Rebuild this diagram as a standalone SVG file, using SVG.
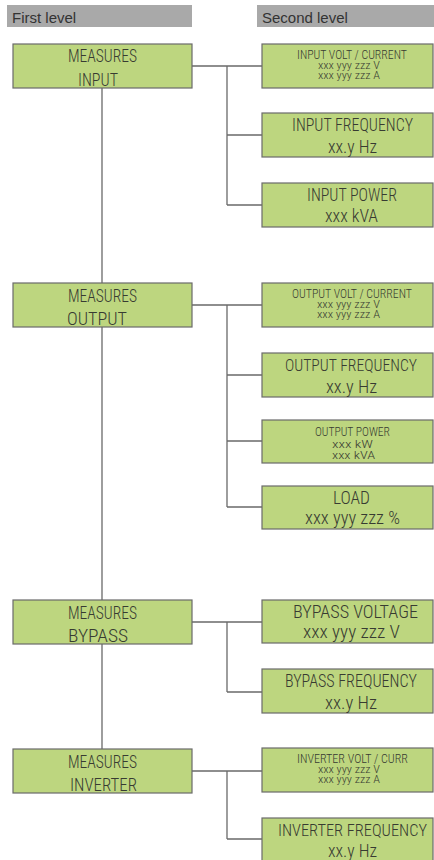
<svg xmlns="http://www.w3.org/2000/svg" width="434" height="860" viewBox="0 0 434 860">
<style>
.bg{fill:#ffffff}
.hdr{fill:#a9a9a9}
.htxt{font-family:"Liberation Sans",Arial,sans-serif;font-size:15px;fill:#333333}
.box{fill:#bdd67f;stroke:#6a6a6a;stroke-width:1.2}
.t{font-family:"Roboto Condensed","DejaVu Sans Condensed","Liberation Sans Narrow","Liberation Sans",sans-serif;font-stretch:condensed;font-weight:300;fill:#383b32;text-anchor:middle}
.big{font-size:18px}
.fit{font-size:17px}
.mid{font-size:13px}
.sm{font-size:10px}
.ln{fill:none;stroke:#6a6a6a;stroke-width:1.3}
</style>
<rect class="bg" x="0" y="0" width="434" height="860"/>
<g id="headers">
<rect class="hdr" x="7" y="5" width="185" height="22"/>
<text class="htxt" x="12" y="23">First level</text>
<rect class="hdr" x="257" y="5" width="177" height="22"/>
<text class="htxt" x="262" y="23">Second level</text>
</g>
<g id="connectors">
<path class="ln" d="M102 88V283M102 327V600M102 644V749"/>
<path class="ln" d="M192 66H262M227 66V205M227 135H262M227 205H262"/>
<path class="ln" d="M192 305H262M227 305V507M227 375H262M227 441H262M227 507H262"/>
<path class="ln" d="M192 622H262M227 622V692M227 692H262"/>
<path class="ln" d="M192 771H262M227 771V839M227 839H262"/>
</g>
<g id="measures-input">
<rect class="box" x="13" y="44" width="179" height="44"/>
<text class="t big" x="102.5" y="62" textLength="69" lengthAdjust="spacingAndGlyphs">MEASURES</text>
<text class="t big" x="98" y="86" textLength="40" lengthAdjust="spacingAndGlyphs">INPUT</text>
</g>
<g id="measures-output">
<rect class="box" x="13" y="283" width="179" height="44"/>
<text class="t big" x="102.5" y="302" textLength="69" lengthAdjust="spacingAndGlyphs">MEASURES</text>
<text class="t big" x="97" y="325" textLength="60" lengthAdjust="spacingAndGlyphs">OUTPUT</text>
</g>
<g id="measures-bypass">
<rect class="box" x="13" y="600" width="179" height="44"/>
<text class="t big" x="102.5" y="619" textLength="69" lengthAdjust="spacingAndGlyphs">MEASURES</text>
<text class="t big" x="98" y="642" textLength="60" lengthAdjust="spacingAndGlyphs">BYPASS</text>
</g>
<g id="measures-inverter">
<rect class="box" x="13" y="749" width="179" height="44"/>
<text class="t big" x="102.5" y="768" textLength="69" lengthAdjust="spacingAndGlyphs">MEASURES</text>
<text class="t big" x="103.5" y="791" textLength="67" lengthAdjust="spacingAndGlyphs">INVERTER</text>
</g>
<g id="input-volt-current">
<rect class="box" x="262" y="44" width="171" height="44"/>
<text class="t mid" x="352" y="58.5" textLength="110" lengthAdjust="spacingAndGlyphs">INPUT VOLT / CURRENT</text>
<text class="t sm" x="349" y="69" textLength="62" lengthAdjust="spacingAndGlyphs">xxx yyy zzz V</text>
<text class="t sm" x="349" y="79" textLength="62" lengthAdjust="spacingAndGlyphs">xxx yyy zzz A</text>
</g>
<g id="input-frequency">
<rect class="box" x="262" y="113" width="171" height="44"/>
<text class="t big" x="352.5" y="131" textLength="121" lengthAdjust="spacingAndGlyphs">INPUT FREQUENCY</text>
<text class="t big" x="352.5" y="153" textLength="49" lengthAdjust="spacingAndGlyphs">xx.y Hz</text>
</g>
<g id="input-power">
<rect class="box" x="262" y="183" width="171" height="44"/>
<text class="t big" x="352" y="201" textLength="90" lengthAdjust="spacingAndGlyphs">INPUT POWER</text>
<text class="t big" x="351.5" y="222" textLength="53" lengthAdjust="spacingAndGlyphs">xxx kVA</text>
</g>
<g id="output-volt-current">
<rect class="box" x="262" y="283" width="171" height="44"/>
<text class="t mid" x="352" y="297.5" textLength="120" lengthAdjust="spacingAndGlyphs">OUTPUT VOLT / CURRENT</text>
<text class="t sm" x="348.5" y="308" textLength="63" lengthAdjust="spacingAndGlyphs">xxx yyy zzz V</text>
<text class="t sm" x="348.5" y="318" textLength="63" lengthAdjust="spacingAndGlyphs">xxx yyy zzz A</text>
</g>
<g id="output-frequency">
<rect class="box" x="262" y="353" width="171" height="44"/>
<text class="t fit" x="351" y="371" textLength="132" lengthAdjust="spacingAndGlyphs">OUTPUT FREQUENCY</text>
<text class="t big" x="351.5" y="393" textLength="51" lengthAdjust="spacingAndGlyphs">xx.y Hz</text>
</g>
<g id="output-power">
<rect class="box" x="262" y="420" width="171" height="43"/>
<text class="t mid" x="352.5" y="436" textLength="75" lengthAdjust="spacingAndGlyphs">OUTPUT POWER</text>
<text class="t sm" x="352.5" y="448" textLength="41" lengthAdjust="spacingAndGlyphs">xxx kW</text>
<text class="t sm" x="353.5" y="459" textLength="43" lengthAdjust="spacingAndGlyphs">xxx kVA</text>
</g>
<g id="load">
<rect class="box" x="262" y="486" width="171" height="43"/>
<text class="t big" x="351.5" y="504" textLength="37" lengthAdjust="spacingAndGlyphs">LOAD</text>
<text class="t big" x="352.5" y="524" textLength="95" lengthAdjust="spacingAndGlyphs">xxx yyy zzz %</text>
</g>
<g id="bypass-voltage">
<rect class="box" x="262" y="600" width="171" height="43"/>
<text class="t big" x="355.5" y="618" textLength="125" lengthAdjust="spacingAndGlyphs">BYPASS VOLTAGE</text>
<text class="t big" x="351.5" y="638" textLength="97" lengthAdjust="spacingAndGlyphs">xxx yyy zzz V</text>
</g>
<g id="bypass-frequency">
<rect class="box" x="262" y="669" width="171" height="44"/>
<text class="t big" x="351" y="687" textLength="132" lengthAdjust="spacingAndGlyphs">BYPASS FREQUENCY</text>
<text class="t big" x="351" y="709" textLength="52" lengthAdjust="spacingAndGlyphs">xx.y Hz</text>
</g>
<g id="inverter-volt-curr">
<rect class="box" x="262" y="748" width="171" height="44"/>
<text class="t mid" x="352.5" y="762.5" textLength="111" lengthAdjust="spacingAndGlyphs">INVERTER VOLT / CURR</text>
<text class="t sm" x="349" y="773" textLength="62" lengthAdjust="spacingAndGlyphs">xxx yyy zzz V</text>
<text class="t sm" x="349" y="783" textLength="62" lengthAdjust="spacingAndGlyphs">xxx yyy zzz A</text>
</g>
<g id="inverter-frequency">
<rect class="box" x="262" y="818" width="171" height="44"/>
<text class="t fit" x="352.5" y="836" textLength="149" lengthAdjust="spacingAndGlyphs">INVERTER FREQUENCY</text>
<text class="t big" x="352.5" y="857" textLength="49" lengthAdjust="spacingAndGlyphs">xx.y Hz</text>
</g>
</svg>
